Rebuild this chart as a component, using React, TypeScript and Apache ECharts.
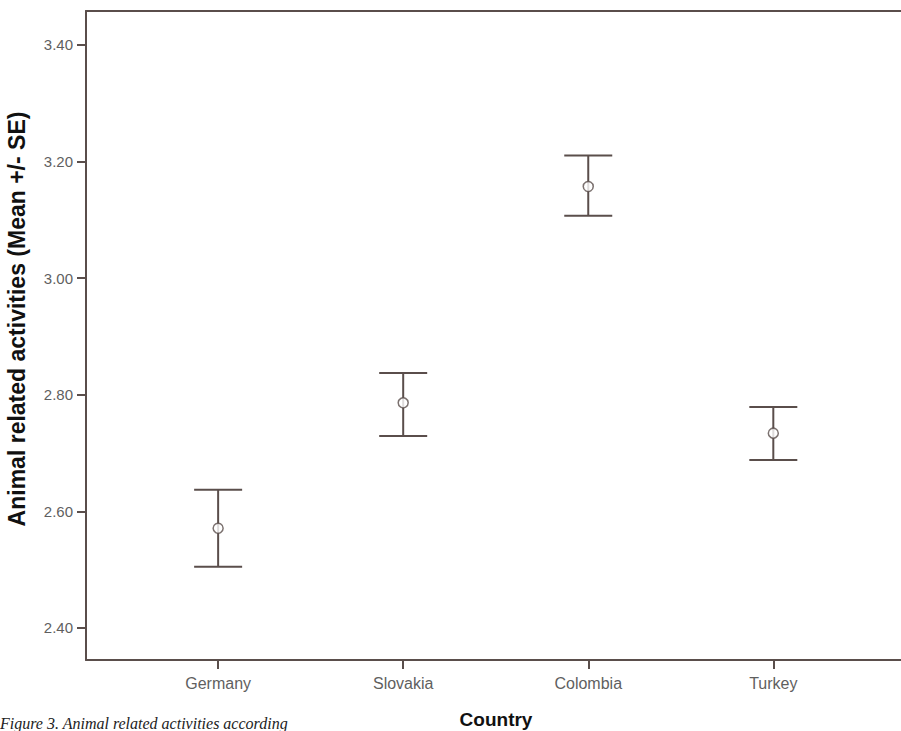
import React, { useEffect, useRef } from "react";
import * as echarts from "echarts";

const countries = ["Germany", "Slovakia", "Colombia", "Turkey"];
const means = [2.571, 2.786, 3.157, 2.734];
const upper = [2.637, 2.837, 3.21, 2.779];
const lower = [2.505, 2.729, 3.107, 2.688];
const yTicks = [2.4, 2.6, 2.8, 3.0, 3.2, 3.4];
const xPositions = [1, 2, 3, 4];

const INK = "#5a4e4b";

export default function App() {
  const ref = useRef<HTMLDivElement>(null);
  useEffect(() => {
    const chart = echarts.init(ref.current!, null, { renderer: "svg" });
    const errData = xPositions.map((x, i) => [x, lower[i], upper[i]]);
    const ptData = xPositions.map((x, i) => [x, means[i]]);
    const font = "Liberation Sans, Arial, sans-serif";
    chart.setOption({
      animation: false,
      backgroundColor: "#ffffff",
      grid: { left: 86, top: 11, right: 0, bottom: 71 },
      xAxis: [
        {
          type: "value",
          min: 0.286,
          max: 4.69,
          position: "bottom",
          splitLine: { show: false },
          axisLine: { show: true, onZero: false, lineStyle: { color: INK, width: 2 } },
          axisTick: {
            show: true,
            customValues: xPositions,
            length: 9,
            lineStyle: { color: INK, width: 2 },
          },
          axisLabel: {
            customValues: xPositions,
            formatter: (v: number) => countries[Math.round(v) - 1] ?? "",
            color: "#5f5f5f",
            fontFamily: font,
            fontSize: 16,
            margin: 15,
          },
        },
        {
          type: "value",
          min: 0.286,
          max: 4.69,
          position: "top",
          splitLine: { show: false },
          axisLine: { show: true, onZero: false, lineStyle: { color: INK, width: 2 } },
          axisTick: { show: false },
          axisLabel: { show: false },
        },
      ],
      yAxis: {
        type: "value",
        min: 2.345,
        max: 3.458,
        splitLine: { show: false },
        axisLine: { show: true, onZero: false, lineStyle: { color: INK, width: 2 } },
        axisTick: {
          show: true,
          customValues: yTicks,
          length: 9,
          lineStyle: { color: INK, width: 2 },
        },
        axisLabel: {
          customValues: yTicks,
          formatter: (v: number) => v.toFixed(2),
          color: "#5f5f5f",
          fontFamily: font,
          fontSize: 15,
          margin: 13,
        },
      },
      series: [
        {
          type: "custom",
          data: errData,
          renderItem: (params: any, api: any) => {
            const x = api.value(0);
            const lo = api.coord([x, api.value(1)]);
            const hi = api.coord([x, api.value(2)]);
            const hw = 24;
            const style = { stroke: INK, lineWidth: 2 };
            return {
              type: "group",
              children: [
                { type: "line", shape: { x1: lo[0], y1: lo[1], x2: hi[0], y2: hi[1] }, style },
                { type: "line", shape: { x1: hi[0] - hw, y1: hi[1], x2: hi[0] + hw, y2: hi[1] }, style },
                { type: "line", shape: { x1: lo[0] - hw, y1: lo[1], x2: lo[0] + hw, y2: lo[1] }, style },
              ],
            };
          },
          z: 2,
        },
        {
          type: "scatter",
          data: ptData,
          symbol: "circle",
          symbolSize: 10,
          itemStyle: { color: "#ffffff", borderColor: INK, borderWidth: 1.5 },
          z: 3,
        },
      ],
      graphic: [
        {
          type: "text",
          x: 17,
          y: 319,
          rotation: Math.PI / 2,
          style: {
            text: "Animal related activities (Mean +/- SE)",
            fontFamily: font,
            fontWeight: "bold",
            fontSize: 23,
            fill: "#111111",
            textAlign: "center",
            textVerticalAlign: "middle",
          },
        },
        {
          type: "text",
          x: 496,
          y: 719,
          style: {
            text: "Country",
            fontFamily: font,
            fontWeight: "bold",
            fontSize: 19,
            fill: "#111111",
            textAlign: "center",
            textVerticalAlign: "middle",
          },
        },
        {
          type: "text",
          x: 0,
          y: 715,
          style: {
            text: "Figure 3. Animal related activities according",
            fontFamily: "Liberation Serif, serif",
            fontStyle: "italic",
            fontSize: 16,
            fill: "#222222",
            textAlign: "left",
            textVerticalAlign: "top",
          },
        },
      ],
    });
    return () => chart.dispose();
  }, []);
  return (
    <div
      ref={ref}
      style={{ position: "absolute", left: 0, top: 0, width: 901, height: 731 }}
    />
  );
}
